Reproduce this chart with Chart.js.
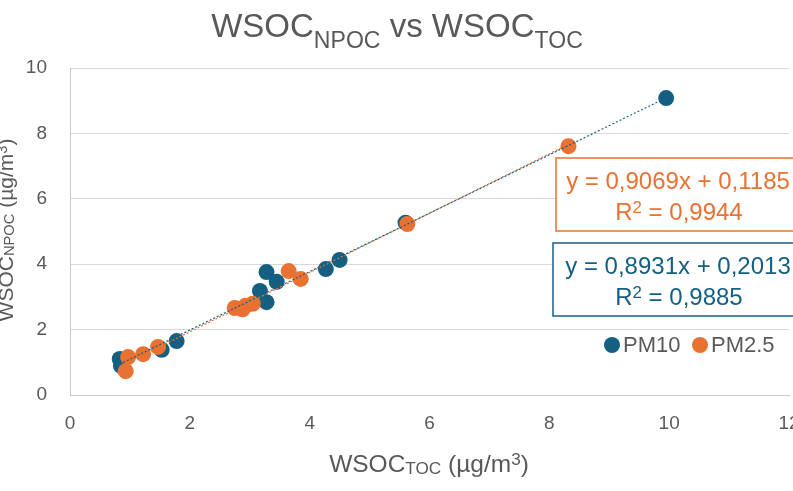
<!DOCTYPE html>
<html>
<head>
<meta charset="utf-8">
<script src="https://cdn.jsdelivr.net/npm/chart.js@4.4.1/dist/chart.umd.min.js"></script>
<style>
      html, body { margin: 0; padding: 0; background: #fff; overflow: hidden; }
      #wrap { position: relative; width: 830px; height: 491px; }
</style>
</head>
<body>
<div id="wrap"><canvas id="wsocChart" width="830" height="491"></canvas></div>
<script>
// WSOC measured by TOC (x) and NPOC (y), µg/m³
const pm10Toc  = [0.83, 0.85, 1.53, 1.78, 3.17, 3.28, 3.28, 3.45, 4.27, 4.50, 5.60, 9.95];
const pm10Npoc = [1.10, 0.89, 1.38, 1.65, 3.18, 2.84, 3.76, 3.46, 3.85, 4.13, 5.27, 9.08];

const pm25Toc  = [0.93, 0.97, 1.22, 1.47, 2.75, 2.88, 2.93, 3.05, 3.65, 3.85, 5.63, 8.32];
const pm25Npoc = [0.73, 1.16, 1.25, 1.47, 2.66, 2.62, 2.73, 2.79, 3.79, 3.55, 5.23, 7.61];

// linear fits: [slope, intercept, R²]
const pm10Fit = [0.8931, 0.2013, 0.9885];
const pm25Fit = [0.9069, 0.1185, 0.9944];

const xTicks = [0, 2, 4, 6, 8, 10, 12];
const yTicks = [0, 2, 4, 6, 8, 10];

const BLUE = '#156082';
const ORANGE = '#E97132';
const TEXT = '#595959';
const FONT = '"Liberation Sans", Arial, sans-serif';

const toPoints = (xs, ys) => xs.map((x, i) => ({ x: x, y: ys[i] }));

// straight trend line over the range of the series
function trendPoints(xs, fit) {
      const lo = Math.min(...xs), hi = Math.max(...xs);
      return [lo, hi].map(x => ({ x: x, y: fit[0] * x + fit[1] }));
}

const fmt = v => v.toFixed(4).replace('.', ',');

// draws text made of normal / sub / sup pieces, centred on x
function drawRich(ctx, parts, x, y, size, color, subDrop) {
      const pieceFont = p => {
            const s = p[1] ? size * 0.7 : size;
            return s + 'px ' + FONT;
      };
      let total = 0;
      parts.forEach(p => { ctx.font = pieceFont(p); total += ctx.measureText(p[0]).width; });
      let cx = x - total / 2;
      ctx.fillStyle = color;
      ctx.textAlign = 'left';
      ctx.textBaseline = 'alphabetic';
      parts.forEach(p => {
            ctx.font = pieceFont(p);
            let dy = 0;
            if (p[1] === 'sub') dy = subDrop;
            if (p[1] === 'sup') dy = -size * 0.3;
            ctx.fillText(p[0], cx, y + dy);
            cx += ctx.measureText(p[0]).width;
      });
}

function eqBox(ctx, left, top, bottom, color, fit) {
      ctx.save();
      ctx.fillStyle = '#fff';
      ctx.fillRect(left, top, 300, bottom - top);
      ctx.strokeStyle = color;
      ctx.lineWidth = 1.5;
      ctx.strokeRect(left, top, 300, bottom - top);
      drawRich(ctx, [['y = ' + fmt(fit[0]) + 'x + ' + fmt(fit[1]), null]], 678, top + 31, 24, color, 0);
      drawRich(ctx, [['R', null], ['2', 'sup'], [' = ' + fmt(fit[2]), null]], 679, top + 62, 24, color, 0);
      ctx.restore();
}

const labelsPlugin = {
      id: 'labelsPlugin',
      afterDraw(chart) {
            const ctx = chart.ctx;
            ctx.save();

            // title
            drawRich(ctx, [['WSOC', null], ['NPOC', 'sub'], [' vs WSOC', null], ['TOC', 'sub']], 397, 37, 33, TEXT, 11);

            // x axis title
            drawRich(ctx, [['WSOC', null], ['TOC', 'sub'], [' (µg/m', null], ['3', 'sup'], [')', null]], 429, 472, 24.5, TEXT, 2);

            // y axis title, partly outside the canvas on the left
            ctx.save();
            ctx.translate(13, 230);
            ctx.rotate(-Math.PI / 2);
            drawRich(ctx, [['WSOC', null], ['NPOC', 'sub'], [' (µg/m', null], ['3', 'sup'], [')', null]], 0, 0, 21, TEXT, 1);
            ctx.restore();

            // fit equations
            eqBox(ctx, 556, 158, 231, ORANGE, pm25Fit);
            eqBox(ctx, 553, 243, 316, BLUE, pm10Fit);

            // legend
            [[612, BLUE, 'PM10'], [700, ORANGE, 'PM2.5']].forEach(([lx, col, txt]) => {
                  ctx.beginPath();
                  ctx.arc(lx, 345, 8, 0, Math.PI * 2);
                  ctx.fillStyle = col;
                  ctx.fill();
                  ctx.font = '22px ' + FONT;
                  ctx.fillStyle = TEXT;
                  ctx.textAlign = 'left';
                  ctx.textBaseline = 'alphabetic';
                  ctx.fillText(txt, lx + 11, 352);
            });

            ctx.restore();
      }
};

const ctx = document.getElementById('wsocChart').getContext('2d');

// lower "order" is drawn on top: fit lines, then PM2.5, then PM10
const wsocChart = new Chart(ctx, {
      type: 'scatter',
      data: {
            datasets: [
            {
                  label: 'PM10',
                  data: toPoints(pm10Toc, pm10Npoc),
                  backgroundColor: BLUE,
                  borderWidth: 0,
                  pointRadius: 8,
                  order: 4,
            },
            {
                  label: 'PM2.5',
                  data: toPoints(pm25Toc, pm25Npoc),
                  backgroundColor: ORANGE,
                  borderWidth: 0,
                  pointRadius: 8,
                  order: 3,
            },
            {
                  type: 'line',
                  label: 'PM10 fit',
                  data: trendPoints(pm10Toc, pm10Fit),
                  borderColor: BLUE,
                  borderWidth: 1.2,
                  borderDash: [2, 2],
                  pointRadius: 0,
                  fill: false,
                  order: 1,
            },
            {
                  type: 'line',
                  label: 'PM2.5 fit',
                  data: trendPoints(pm25Toc, pm25Fit),
                  borderColor: ORANGE,
                  borderWidth: 1.2,
                  borderDash: [2, 2],
                  pointRadius: 0,
                  fill: false,
                  order: 2,
            }
            ]
      },
      options: {
            responsive: false,
            animation: false,
            devicePixelRatio: 1,
            layout: { padding: { top: 68, right: 41, left: 0, bottom: 0 } },
            scales: {
                  x: {
                        type: 'linear',
                        min: xTicks[0],
                        max: xTicks[xTicks.length - 1],
                        afterBuildTicks: s => { s.ticks = xTicks.map(v => ({ value: v })); },
                        afterFit: s => { s.height = 96; },
                        ticks: { color: TEXT, font: { size: 19, family: FONT }, padding: 17 },
                        grid: { display: false, drawTicks: false },
                        border: { display: true, color: '#c8c8c8', width: 1 }
                  },
                  y: {
                        min: yTicks[0],
                        max: yTicks[yTicks.length - 1],
                        afterBuildTicks: s => { s.ticks = yTicks.map(v => ({ value: v })); },
                        afterFit: s => { s.width = 70; },
                        ticks: { color: TEXT, font: { size: 19, family: FONT }, padding: 23 },
                        grid: { color: '#d9d9d9', drawTicks: false },
                        border: { display: true, color: '#c8c8c8', width: 1 }
                  }
            },
            plugins: {
                  legend: { display: false },
                  tooltip: { enabled: false }
            }
      },
      plugins: [labelsPlugin]
});
</script>
</body>
</html>
